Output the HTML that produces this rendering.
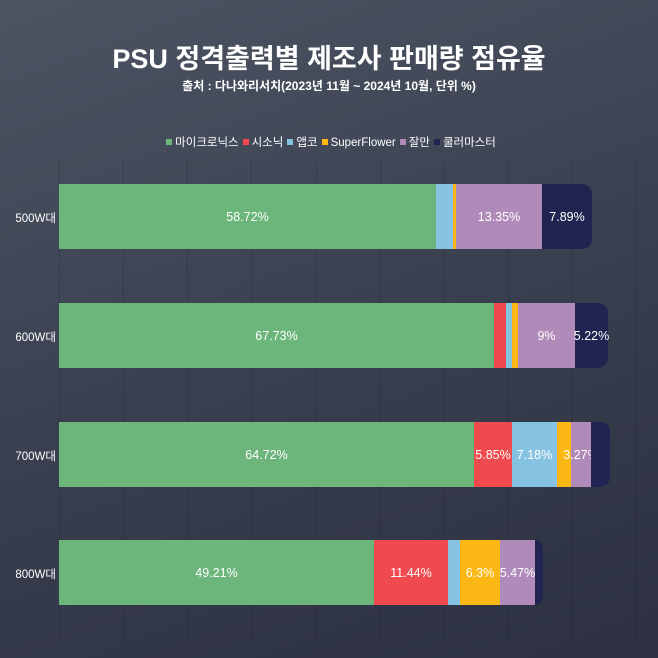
<!DOCTYPE html>
<html><head><meta charset="utf-8"><style>
*{margin:0;padding:0;box-sizing:border-box}
body{width:658px;height:658px;overflow:hidden;position:relative;background:linear-gradient(160deg,#4c5462 0%,#3a4050 50%,#2c3040 100%);font-family:"Liberation Sans","Noto Sans CJK KR",sans-serif;color:#fff}
.t{position:absolute;left:0;width:658px;text-align:center;font-weight:bold}
.g{position:absolute;top:160px;height:480px;width:1px;background:rgba(20,25,35,0.25)}
.bar{position:absolute;left:59px;height:65px;display:flex;}
.bar div{height:100%;display:flex;align-items:center;justify-content:center;font-size:12.5px;white-space:nowrap;overflow:visible}
.bar div:last-child{border-radius:0 10px 10px 0}
.yl{position:absolute;left:0;width:56px;text-align:right;font-size:11.5px}
.lg{position:absolute;top:134px;left:0;width:658px;text-align:center;font-size:11.5px}
.lg span{display:inline-block;width:6px;height:6px;margin:0 3px 0 4px;vertical-align:1px}
</style></head><body>
<div class="t" style="top:37px;font-size:27px">PSU 정격출력별 제조사 판매량 점유율</div>
<div class="t" style="top:77px;font-size:12px">출처 : 다나와리서치(2023년 11월 ~ 2024년 10월, 단위 %)</div>
<div class="lg"><span style="background:#6cb67c"></span>마이크로닉스<span style="background:#ef4b4f"></span>시소닉<span style="background:#86c2e2"></span>앱코<span style="background:#fbb713"></span>SuperFlower<span style="background:#b08ab8"></span>잘만<span style="background:#1f2550"></span>쿨러마스터</div>
<div class="g" style="left:59px"></div><div class="g" style="left:123px"></div><div class="g" style="left:187px"></div><div class="g" style="left:251px"></div><div class="g" style="left:316px"></div><div class="g" style="left:380px"></div><div class="g" style="left:444px"></div><div class="g" style="left:508px"></div><div class="g" style="left:572px"></div><div class="g" style="left:636px"></div>
<div class="yl" style="top:210px">500W대</div>
<div class="yl" style="top:329px">600W대</div>
<div class="yl" style="top:448px">700W대</div>
<div class="yl" style="top:566px">800W대</div>
<div class="bar" style="top:184px">
<div style="width:377px;background:#6cb67c">58.72%</div><div style="width:17px;background:#86c2e2"></div><div style="width:3px;background:#fbb713"></div><div style="width:86px;background:#b08ab8">13.35%</div><div style="width:50px;background:#1f2550">7.89%</div></div>
<div class="bar" style="top:303px">
<div style="width:435px;background:#6cb67c">67.73%</div><div style="width:12px;background:#ef4b4f"></div><div style="width:6px;background:#86c2e2"></div><div style="width:6px;background:#fbb713"></div><div style="width:57px;background:#b08ab8">9%</div><div style="width:33px;background:#1f2550">5.22%</div></div>
<div class="bar" style="top:422px">
<div style="width:415px;background:#6cb67c">64.72%</div><div style="width:38px;background:#ef4b4f">5.85%</div><div style="width:45px;background:#86c2e2">7.18%</div><div style="width:14px;background:#fbb713"></div><div style="width:20px;background:#b08ab8">3.27%</div><div style="width:19px;background:#1f2550"></div></div>
<div class="bar" style="top:540px">
<div style="width:315px;background:#6cb67c">49.21%</div><div style="width:74px;background:#ef4b4f">11.44%</div><div style="width:12px;background:#86c2e2"></div><div style="width:40px;background:#fbb713">6.3%</div><div style="width:35px;background:#b08ab8">5.47%</div><div style="width:8px;background:#1f2550"></div></div>
</body></html>
